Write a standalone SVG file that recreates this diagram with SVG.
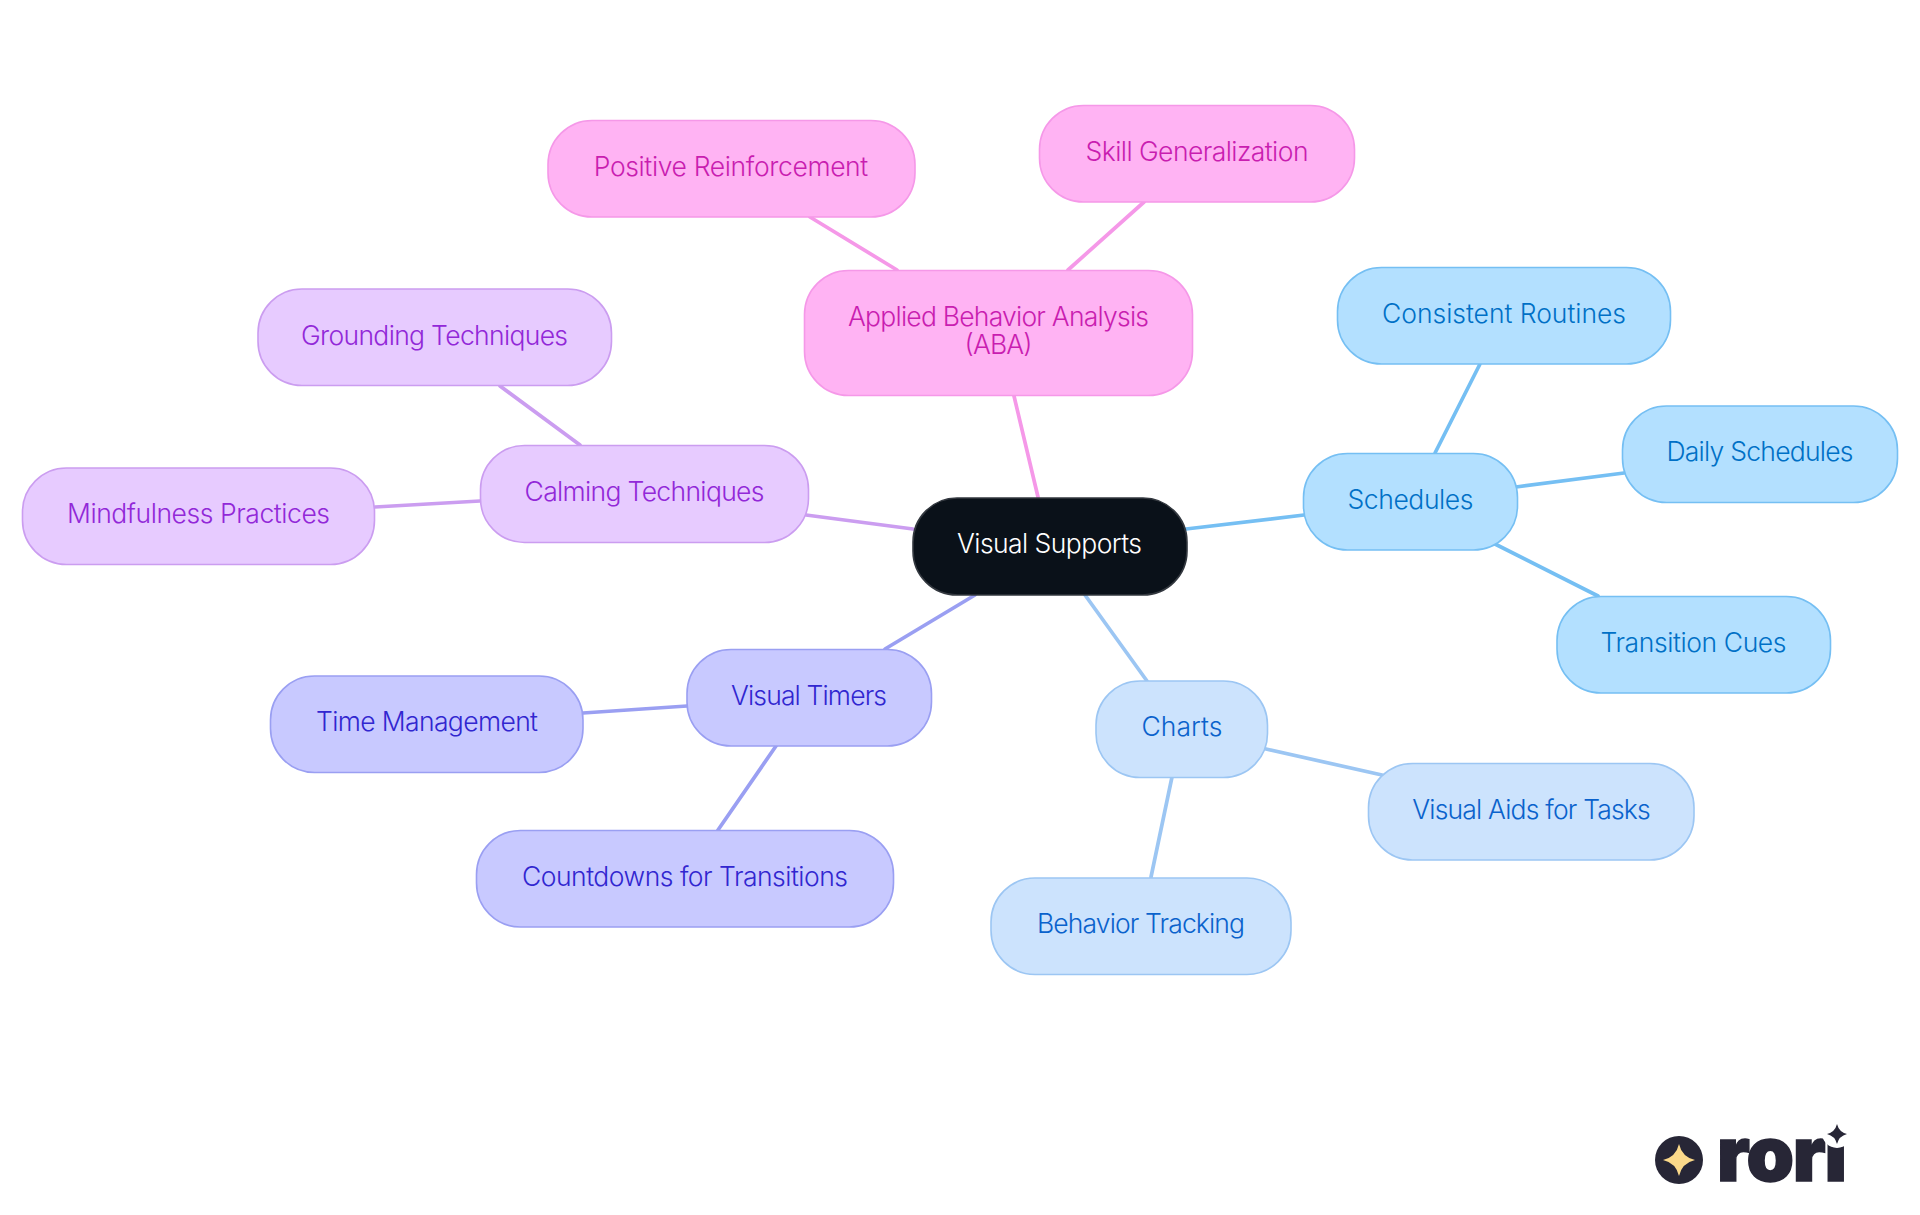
<svg xmlns="http://www.w3.org/2000/svg" width="1920" height="1215" viewBox="0 0 1920 1215">
<style>
text{font-family:"Inter","Noto Sans","Liberation Sans",sans-serif;font-size:26.500px;font-weight:300;text-anchor:middle}
rect{stroke-width:1.6}
#connectors line{stroke-width:3.7;stroke-linecap:round;fill:none}
.a rect{fill:#b3e0ff;stroke:#75bff3}.a text{fill:#0070c6}.a-l{stroke:#75bff3}
.b rect{fill:#cce3fd;stroke:#9cc6f3}.b text{fill:#0a62cc}.b-l{stroke:#9cc6f3}
.c rect{fill:#c8c9ff;stroke:#9a9ff2}.c text{fill:#3126d0}.c-l{stroke:#9a9ff2}
.d rect{fill:#e7cbff;stroke:#cb9df0}.d text{fill:#9228d8}.d-l{stroke:#cb9df0}
.e rect{fill:#ffb3f3;stroke:#f598e8}.e text{fill:#c91db0}.e-l{stroke:#f598e8}
.r rect{fill:#0a1119;stroke:#33383f}.r text{fill:#fff}
.logo{fill:#272636}
</style>
<rect x="0" y="0" width="1920" height="1215" fill="#fff" stroke="none"/>
<g id="connectors">
<line class="a-l" x1="1186" y1="529" x2="1304" y2="515"/>
<line class="a-l" x1="1435" y1="453" x2="1480" y2="364"/>
<line class="a-l" x1="1516" y1="487" x2="1624" y2="473"/>
<line class="a-l" x1="1493" y1="543" x2="1598" y2="596"/>
<line class="b-l" x1="1085" y1="595" x2="1147" y2="681"/>
<line class="b-l" x1="1266" y1="749" x2="1382" y2="775"/>
<line class="b-l" x1="1172" y1="777" x2="1151" y2="877"/>
<line class="c-l" x1="975" y1="595" x2="885" y2="649"/>
<line class="c-l" x1="687" y1="706" x2="583" y2="713"/>
<line class="c-l" x1="776" y1="746" x2="718" y2="830"/>
<line class="d-l" x1="913" y1="529" x2="806" y2="515"/>
<line class="d-l" x1="580" y1="445" x2="500" y2="386"/>
<line class="d-l" x1="480" y1="501" x2="375" y2="507"/>
<line class="e-l" x1="1038" y1="497" x2="1014" y2="396"/>
<line class="e-l" x1="897" y1="270" x2="810" y2="217"/>
<line class="e-l" x1="1068" y1="270" x2="1144" y2="202"/>
</g>
<g id="root" class="r"><rect x="913" y="498" width="274" height="97" rx="44"/><text x="1049.500" y="553" textLength="185">Visual Supports</text></g>
<g id="schedules" class="a"><rect x="1303.500" y="453.500" width="214" height="96.500" rx="44"/><text x="1410.500" y="508.500" textLength="126">Schedules</text></g>
<g id="consistent-routines" class="a"><rect x="1337.500" y="267.500" width="333" height="96.500" rx="44"/><text x="1504" y="323" textLength="244">Consistent Routines</text></g>
<g id="daily-schedules" class="a"><rect x="1622.500" y="406" width="275" height="96.500" rx="44"/><text x="1760" y="461" textLength="187">Daily Schedules</text></g>
<g id="transition-cues" class="a"><rect x="1557" y="596.500" width="273.500" height="96.500" rx="44"/><text x="1693.500" y="651.500" textLength="186">Transition Cues</text></g>
<g id="charts" class="b"><rect x="1096" y="681" width="171.500" height="96.500" rx="44"/><text x="1182" y="736" textLength="81">Charts</text></g>
<g id="visual-aids" class="b"><rect x="1368.500" y="763.500" width="325.500" height="96.500" rx="44"/><text x="1531.500" y="818.500" textLength="238.500">Visual Aids for Tasks</text></g>
<g id="behavior-tracking" class="b"><rect x="991" y="878" width="300" height="96.500" rx="44"/><text x="1141" y="932.500" textLength="208">Behavior Tracking</text></g>
<g id="visual-timers" class="c"><rect x="687" y="649.500" width="244.500" height="96.500" rx="44"/><text x="809" y="704.500" textLength="156">Visual Timers</text></g>
<g id="time-management" class="c"><rect x="270.500" y="676" width="312.500" height="96.500" rx="44"/><text x="427" y="731" textLength="222">Time Management</text></g>
<g id="countdowns" class="c"><rect x="476.500" y="830.500" width="417" height="96.500" rx="44"/><text x="685" y="885.500" textLength="326">Countdowns for Transitions</text></g>
<g id="calming-techniques" class="d"><rect x="480.500" y="445.500" width="328" height="97" rx="44"/><text x="644.500" y="500.500" textLength="240">Calming Techniques</text></g>
<g id="grounding-techniques" class="d"><rect x="258" y="289" width="353.500" height="96.500" rx="44"/><text x="434.500" y="344.500" textLength="267">Grounding Techniques</text></g>
<g id="mindfulness-practices" class="d"><rect x="22.500" y="468" width="352" height="96.500" rx="44"/><text x="198.500" y="523" textLength="263">Mindfulness Practices</text></g>
<g id="aba" class="e"><rect x="804.500" y="270.500" width="388" height="125" rx="44"/><text x="998.500" y="326" textLength="301">Applied Behavior Analysis</text><text x="998.500" y="354" textLength="68">(ABA)</text></g>
<g id="positive-reinforcement" class="e"><rect x="548" y="120.500" width="367" height="96.500" rx="44"/><text x="731" y="175.500" textLength="274.500">Positive Reinforcement</text></g>
<g id="skill-generalization" class="e"><rect x="1039.500" y="105.500" width="315" height="96.500" rx="44"/><text x="1197" y="160.500" textLength="223">Skill Generalization</text></g>
<g id="logo">
<circle class="logo" cx="1679" cy="1160" r="24"/>
<path d="M1679 1144Q1682 1157 1695 1160Q1682 1163 1679 1176Q1676 1163 1663 1160Q1676 1157 1679 1144Z" fill="#fbd98a"/>
<text class="logo" x="1782" y="1181" textLength="130" style="font-size:76px;font-weight:900;stroke:#272636;stroke-width:1.500px">rori</text>
<circle cx="1837" cy="1133" r="15" fill="#fff"/>
<path class="logo" d="M1837 1124Q1839 1132 1847 1134Q1839 1136 1837 1144Q1835 1136 1827 1134Q1835 1132 1837 1124Z"/>
</g>
</svg>
